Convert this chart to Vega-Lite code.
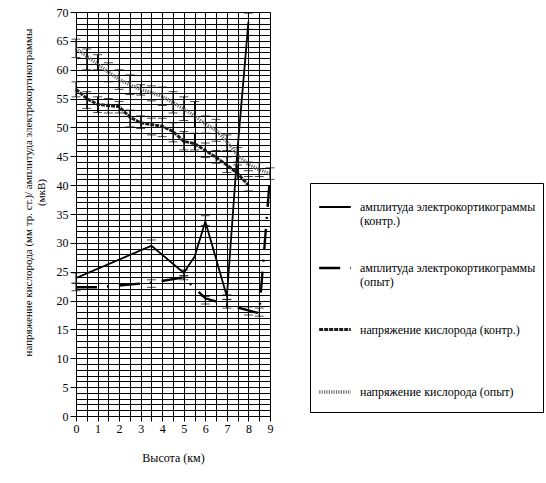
{
  "$schema": "https://vega.github.io/schema/vega-lite/v6.json",
  "width": 194,
  "height": 404,
  "autosize": "none",
  "padding": {"left": 76, "top": 12, "right": 276, "bottom": 67},
  "background": "white",
  "config": {
    "font": "Liberation Serif",
    "view": {"stroke": null},
    "legend": {"labelFont": "Liberation Serif", "titleFont": "Liberation Serif"},
    "axis": {
      "grid": true,
      "gridColor": "black",
      "gridOpacity": 1,
      "gridWidth": 1,
      "domainColor": "black",
      "domainWidth": 1,
      "tickColor": "black",
      "labelFont": "Liberation Serif",
      "labelFontSize": 12,
      "labelColor": "black",
      "labelFlush": false,
      "labelOverlap": false,
      "titleFont": "Liberation Serif",
      "titleFontSize": 12,
      "titleFontWeight": "normal",
      "titleColor": "black"
    }
  },
  "datasets": {
    "d": [
      {"s": "амплитуда электрокортикограммы|(контр.)", "x": 0, "y": 23.9, "lo": 23.0, "hi": 24.8},
      {"s": "амплитуда электрокортикограммы|(контр.)", "x": 3.5, "y": 29.5, "lo": 28.8, "hi": 30.5},
      {"s": "амплитуда электрокортикограммы|(контр.)", "x": 5, "y": 24.8, "lo": 24.3, "hi": 25.3},
      {"s": "амплитуда электрокортикограммы|(контр.)", "x": 5.5, "y": 27.6},
      {"s": "амплитуда электрокортикограммы|(контр.)", "x": 6, "y": 33.7, "lo": 33.0, "hi": 34.7},
      {"s": "амплитуда электрокортикограммы|(контр.)", "x": 7, "y": 20.7, "lo": 20.2, "hi": 21.0},
      {"s": "амплитуда электрокортикограммы|(контр.)", "x": 7.5, "y": 46.5},
      {"s": "амплитуда электрокортикограммы|(контр.)", "x": 8, "y": 68.3, "lo": 67.0, "hi": 69.8},

      {"s": "амплитуда электрокортикограммы|(опыт)", "x": 0, "y": 22.3, "lo": 21.7, "hi": 23.0},
      {"s": "амплитуда электрокортикограммы|(опыт)", "x": 1, "y": 22.3},
      {"s": "амплитуда электрокортикограммы|(опыт)", "x": 3.5, "y": 23.1, "lo": 22.3, "hi": 23.6},
      {"s": "амплитуда электрокортикограммы|(опыт)", "x": 5, "y": 24.0, "lo": 23.6, "hi": 24.3},
      {"s": "амплитуда электрокортикограммы|(опыт)", "x": 6, "y": 20.4, "lo": 19.4, "hi": 20.7},
      {"s": "амплитуда электрокортикограммы|(опыт)", "x": 7, "y": 19.3, "lo": 18.7, "hi": 20.2},
      {"s": "амплитуда электрокортикограммы|(опыт)", "x": 8, "y": 18.3, "lo": 17.5, "hi": 18.9},
      {"s": "амплитуда электрокортикограммы|(опыт)", "x": 8.5, "y": 17.8, "lo": 17.3, "hi": 18.7},
      {"s": "амплитуда электрокортикограммы|(опыт)", "x": 9, "y": 41.5},

      {"s": "напряжение кислорода (контр.)", "x": 0, "y": 56.6, "lo": 55.3, "hi": 57.9},
      {"s": "напряжение кислорода (контр.)", "x": 0.5, "y": 55.0, "lo": 53.3, "hi": 56.2},
      {"s": "напряжение кислорода (контр.)", "x": 1, "y": 54.0, "lo": 52.6, "hi": 55.3},
      {"s": "напряжение кислорода (контр.)", "x": 1.5, "y": 53.8, "lo": 52.5, "hi": 55.0},
      {"s": "напряжение кислорода (контр.)", "x": 2, "y": 53.6, "lo": 52.5, "hi": 54.5},
      {"s": "напряжение кислорода (контр.)", "x": 2.5, "y": 51.8, "lo": 50.1, "hi": 53.0},
      {"s": "напряжение кислорода (контр.)", "x": 3, "y": 50.8, "lo": 49.8, "hi": 52.0},
      {"s": "напряжение кислорода (контр.)", "x": 3.5, "y": 50.5, "lo": 48.7, "hi": 51.6},
      {"s": "напряжение кислорода (контр.)", "x": 4, "y": 50.2, "lo": 48.4, "hi": 51.6},
      {"s": "напряжение кислорода (контр.)", "x": 4.5, "y": 49.3, "lo": 47.5, "hi": 50.8},
      {"s": "напряжение кислорода (контр.)", "x": 5, "y": 47.6, "lo": 46.1, "hi": 49.3},
      {"s": "напряжение кислорода (контр.)", "x": 5.5, "y": 47.2, "lo": 46.1, "hi": 49.0},
      {"s": "напряжение кислорода (контр.)", "x": 6, "y": 46.0, "lo": 44.8, "hi": 47.3},
      {"s": "напряжение кислорода (контр.)", "x": 6.5, "y": 44.8, "lo": 43.8, "hi": 46.0},
      {"s": "напряжение кислорода (контр.)", "x": 7, "y": 43.5, "lo": 42.2, "hi": 44.9},
      {"s": "напряжение кислорода (контр.)", "x": 7.5, "y": 42.0, "lo": 41.0, "hi": 43.5},
      {"s": "напряжение кислорода (контр.)", "x": 8, "y": 40.0, "lo": 39.0, "hi": 41.5},

      {"s": "напряжение кислорода (опыт)", "x": 0, "y": 63.7, "lo": 62.1, "hi": 65.3},
      {"s": "напряжение кислорода (опыт)", "x": 0.5, "y": 62.3, "lo": 60.0, "hi": 63.6},
      {"s": "напряжение кислорода (опыт)", "x": 1, "y": 61.0, "lo": 60.0, "hi": 62.6},
      {"s": "напряжение кислорода (опыт)", "x": 1.5, "y": 59.6, "lo": 57.9, "hi": 61.2},
      {"s": "напряжение кислорода (опыт)", "x": 2, "y": 58.3, "lo": 56.6, "hi": 60.0},
      {"s": "напряжение кислорода (опыт)", "x": 2.5, "y": 57.4, "lo": 55.7, "hi": 59.1},
      {"s": "напряжение кислорода (опыт)", "x": 3, "y": 56.6, "lo": 55.6, "hi": 57.4},
      {"s": "напряжение кислорода (опыт)", "x": 3.5, "y": 56.0, "lo": 54.6, "hi": 57.2},
      {"s": "напряжение кислорода (опыт)", "x": 4, "y": 55.4, "lo": 53.8, "hi": 57.0},
      {"s": "напряжение кислорода (опыт)", "x": 4.5, "y": 54.3, "lo": 52.5, "hi": 56.2},
      {"s": "напряжение кислорода (опыт)", "x": 5, "y": 53.2, "lo": 51.2, "hi": 55.3},
      {"s": "напряжение кислорода (опыт)", "x": 5.5, "y": 52.0, "lo": 50.0, "hi": 54.5},
      {"s": "напряжение кислорода (опыт)", "x": 6, "y": 50.6, "lo": 49.0, "hi": 52.0},
      {"s": "напряжение кислорода (опыт)", "x": 6.5, "y": 49.5, "lo": 47.6, "hi": 51.4},
      {"s": "напряжение кислорода (опыт)", "x": 7, "y": 47.5, "lo": 46.0, "hi": 48.7},
      {"s": "напряжение кислорода (опыт)", "x": 7.5, "y": 45.2, "lo": 44.0, "hi": 46.5},
      {"s": "напряжение кислорода (опыт)", "x": 8, "y": 43.6, "lo": 42.5, "hi": 44.0},
      {"s": "напряжение кислорода (опыт)", "x": 8.5, "y": 42.7, "lo": 41.5, "hi": 43.9},
      {"s": "напряжение кислорода (опыт)", "x": 9, "y": 42.0, "lo": 41.0, "hi": 43.0}
    ]
  },
  "data": {"name": "d"},
  "encoding": {
    "x": {
      "field": "x",
      "type": "quantitative",
      "scale": {"domain": [0, 9], "nice": false},
      "axis": {
        "title": "Высота (км)",
        "values": [0, 0.5, 1, 1.5, 2, 2.5, 3, 3.5, 4, 4.5, 5, 5.5, 6, 6.5, 7, 7.5, 8, 8.5, 9],
        "labelExpr": "datum.value % 1 === 0 ? format(datum.value, 'd') : ''",
        "tickSize": 5,
        "labelPadding": 2,
        "titlePadding": 18
      }
    }
  },
  "layer": [
    {
      "mark": {"type": "line", "strokeCap": "butt"},
      "encoding": {
        "y": {
          "field": "y",
          "type": "quantitative",
          "scale": {"domain": [0, 70], "nice": false},
          "axis": {
            "title": ["напряжение кислорода (мм  тр. ст.)/ амплитуда электрокортикограммы", "(мкВ)"],
            "values": [0,1,2,3,4,5,6,7,8,9,10,11,12,13,14,15,16,17,18,19,20,21,22,23,24,25,26,27,28,29,30,31,32,33,34,35,36,37,38,39,40,41,42,43,44,45,46,47,48,49,50,51,52,53,54,55,56,57,58,59,60,61,62,63,64,65,66,67,68,69,70],
            "labelExpr": "datum.value % 5 === 0 ? datum.label : ''",
            "tickColor": {"condition": {"test": "datum.value % 5 === 0", "value": "black"}, "value": "transparent"},
            "tickSize": 6,
            "labelPadding": 2,
            "titleFontSize": 11,
            "titleX": -48,
            "titleY": 180,
            "titleBaseline": "middle"
          }
        },
        "color": {
          "field": "s",
          "type": "nominal",
          "scale": {
            "domain": ["амплитуда электрокортикограммы|(контр.)", "амплитуда электрокортикограммы|(опыт)", "напряжение кислорода (контр.)", "напряжение кислорода (опыт)"],
            "range": ["black", "black", "#1e1e1e", "#707070"]
          },
          "legend": {
            "orient": "none",
            "legendX": 234,
            "legendY": 171,
            "title": " ",
            "titleOrient": "bottom",
            "titleFontSize": 6,
            "titlePadding": 0,
            "symbolType": "stroke",
            "symbolSize": 1000,
            "labelExpr": "split(replace(datum.label, 'кислорода (контр.)', 'кислорода (контр.)| '), '|')",
            "labelFontSize": 12,
            "labelColor": "black",
            "labelLimit": 400,
            "labelOffset": 7,
            "labelBaseline": "alphabetic",
            "strokeColor": "black",
            "fillColor": "white",
            "padding": 7,
            "rowPadding": 24,
            "encode": {"labels": {"update": {"dy": {"value": 4}}}}
          }
        },
        "strokeDash": {
          "field": "s",
          "type": "nominal",
          "scale": {
            "domain": ["амплитуда электрокортикограммы|(контр.)", "амплитуда электрокортикограммы|(опыт)", "напряжение кислорода (контр.)", "напряжение кислорода (опыт)"],
            "range": [[1, 0], [21, 10, 2, 10], [4, 1], [1.2, 1.2]]
          }
        },
        "strokeWidth": {
          "field": "s",
          "type": "nominal",
          "scale": {
            "domain": ["амплитуда электрокортикограммы|(контр.)", "амплитуда электрокортикограммы|(опыт)", "напряжение кислорода (контр.)", "напряжение кислорода (опыт)"],
            "range": [1.8, 3.5, 3.5, 3]
          }
        }
      }
    },
    {
      "transform": [{"filter": "isValid(datum.lo)"}],
      "mark": {
        "type": "errorbar",
        "ticks": {"size": 9, "thickness": 1, "color": "black"},
        "rule": {"color": "black", "strokeWidth": 1}
      },
      "encoding": {
        "y": {
          "field": "lo",
          "type": "quantitative",
          "scale": {"domain": [0, 70], "nice": false},
          "axis": {
            "title": ["напряжение кислорода (мм  тр. ст.)/ амплитуда электрокортикограммы", "(мкВ)"],
            "values": [0,1,2,3,4,5,6,7,8,9,10,11,12,13,14,15,16,17,18,19,20,21,22,23,24,25,26,27,28,29,30,31,32,33,34,35,36,37,38,39,40,41,42,43,44,45,46,47,48,49,50,51,52,53,54,55,56,57,58,59,60,61,62,63,64,65,66,67,68,69,70],
            "labelExpr": "datum.value % 5 === 0 ? datum.label : ''",
            "tickColor": {"condition": {"test": "datum.value % 5 === 0", "value": "black"}, "value": "transparent"},
            "tickSize": 6,
            "labelPadding": 2,
            "titleFontSize": 11,
            "titleX": -48,
            "titleY": 180,
            "titleBaseline": "middle"
          }
        },
        "y2": {"field": "hi"}
      }
    }
  ]
}
